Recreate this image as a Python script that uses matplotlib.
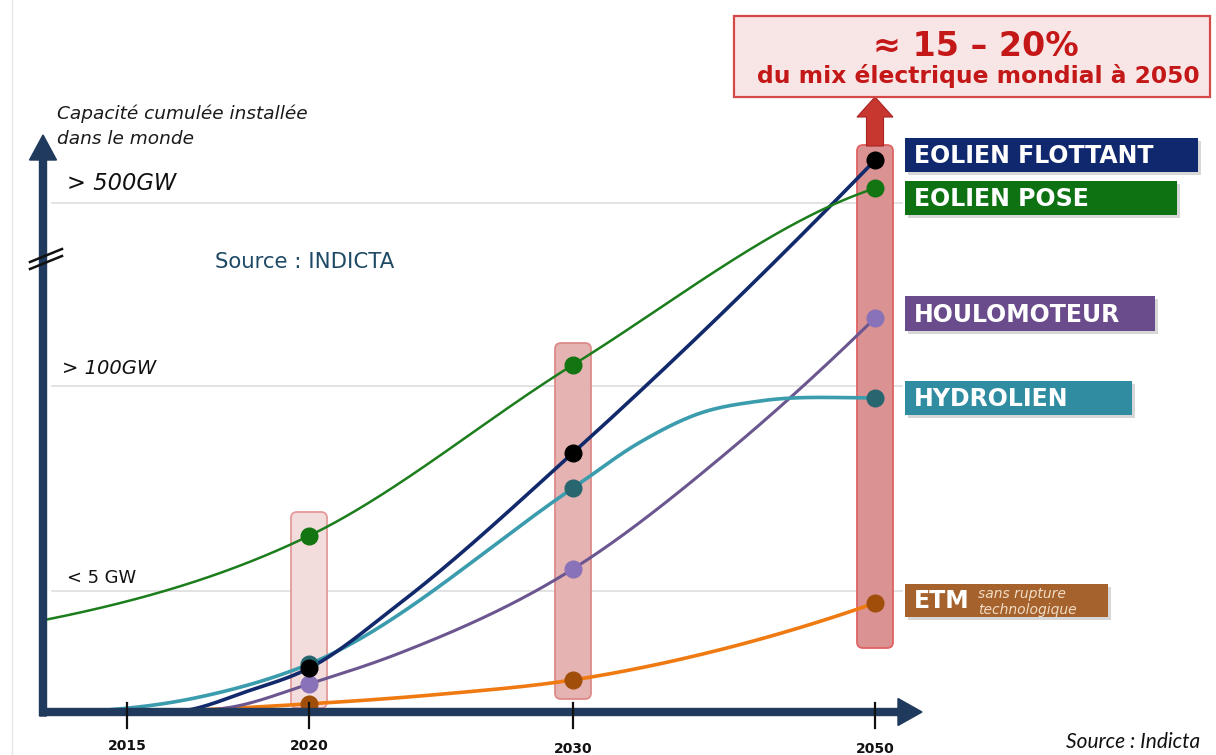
import numpy as np
import matplotlib
matplotlib.use("Agg")
import matplotlib.pyplot as plt
from matplotlib.patches import FancyBboxPatch, FancyArrow, Rectangle

# ---------------- data ----------------
tick_years = [2015, 2020, 2030, 2050]
tick_labels = ["2015", "2020", "2030", "2050"]
marker_years = [2020, 2030, 2050]

grid_levels = [23.8, 64.0, 100.0]          # "< 5 GW", "> 100GW", "> 500GW"
grid_labels = ["< 5 GW", "> 100GW", "> 500GW"]

flottant_years = [2016.2, 2018.4, 2020, 2023.45, 2030, 2050]
flottant_level = [0.0, 4.3, 8.6, 21.4, 50.9, 108.4]

pose_years = [2012.75, 2020, 2030, 2050]
pose_level = [18.1, 34.6, 68.2, 102.9]

houlo_years = [2016.5, 2017.9, 2020, 2023.45, 2030, 2040.4, 2050]
houlo_level = [0.0, 1.0, 5.5, 11.6, 28.1, 51.5, 77.4]

hydro_years = [2013.57, 2017.0, 2020, 2030, 2034.44, 2038.41, 2042.38, 2050]
hydro_level = [0.0, 2.95, 9.4, 44.0, 53.0, 58.7, 61.1, 61.7]

etm_years = [2014.8, 2020, 2025.0, 2030, 2039.7, 2050]
etm_level = [0.0, 1.6, 3.5, 6.3, 12.2, 21.4]

series_names = ["EOLIEN FLOTTANT", "EOLIEN POSE", "HOULOMOTEUR", "HYDROLIEN", "ETM"]

# ---------------- layout helpers ----------------
W, H = 1216, 755
X_KNOTS_YEARS = [2010, 2015, 2020, 2030, 2050, 2060]
X_KNOTS_PIX = [127 - 5 * 36.4, 127, 309, 573, 875, 875 + 151]
Y0, YS = 712, 5.09


def X(years):
    return np.interp(np.asarray(years, float), X_KNOTS_YEARS, X_KNOTS_PIX)


def Y(levels):
    return Y0 - np.asarray(levels, float) * YS


def smooth(x, y, xs, end_slopes=(None, None)):
    """Cubic Hermite curve through the points with Bessel (parabolic) slopes."""
    x = np.asarray(x, float); y = np.asarray(y, float)
    n = len(x)
    h = np.diff(x); d = np.diff(y) / h
    m = np.zeros(n)
    for k in range(1, n - 1):
        m[k] = (h[k] * d[k - 1] + h[k - 1] * d[k]) / (h[k - 1] + h[k])
    if n > 2:
        m[0] = 2 * d[0] - m[1] if end_slopes[0] is None else end_slopes[0]
        m[-1] = 2 * d[-1] - m[-2] if end_slopes[1] is None else end_slopes[1]
    else:
        m[:] = d[0]
    idx = np.clip(np.searchsorted(x, xs) - 1, 0, n - 2)
    t = (xs - x[idx]) / h[idx]
    h00 = 2 * t**3 - 3 * t**2 + 1; h10 = t**3 - 2 * t**2 + t
    h01 = -2 * t**3 + 3 * t**2; h11 = t**3 - t**2
    return h00 * y[idx] + h10 * h[idx] * m[idx] + h01 * y[idx + 1] + h11 * h[idx] * m[idx + 1]


fig = plt.figure(figsize=(W / 100, H / 100), dpi=100)
ax = fig.add_axes([0, 0, 1, 1])
ax.set_xlim(0, W)
ax.set_ylim(H, 0)
ax.axis("off")

AXIS_C = "#1f3a5c"

# faint page border
ax.plot([12, 12], [0, H], color="#e6e6e6", lw=1, zorder=0)

# gridlines
for lv in grid_levels:
    ax.plot([52, 902], [Y(lv), Y(lv)], color="#dedede", lw=1.2, zorder=1)

# highlight bars at 2020 / 2030 / 2050
bar_specs = [
    (2020, 512, 708, "#f3dcdc", "#e49a9a"),
    (2030, 343, 699, "#e6b3b3", "#dc8a8a"),
    (2050, 145, 648, "#da9292", "#e06262"),
]
for yr, top, bot, fc, ec in bar_specs:
    cx = float(X(yr))
    ax.add_patch(FancyBboxPatch((cx - 18, top), 36, bot - top,
                                boxstyle="round,pad=0,rounding_size=6",
                                fc=fc, ec=ec, lw=1.3, zorder=2))

# red arrow above the 2050 bar
ax.add_patch(FancyArrow(float(X(2050)), 146, 0, -49, width=17, head_width=36,
                        head_length=20, length_includes_head=True,
                        fc="#c8372f", ec="#a82222", lw=0.8, zorder=3))

# top box
ax.add_patch(Rectangle((734, 16), 476, 81, fc="#f8e6e6", ec="#d54848", lw=1.6, zorder=4))
ax.text(976, 46, "≈ 15 – 20%", ha="center", va="center", fontsize=24,
        fontweight="bold", color="#c41818", zorder=5)
ax.text(978, 76, "du mix électrique mondial à 2050", ha="center", va="center",
        fontsize=16.8, fontweight="bold", color="#c41818", zorder=5)

# curves: (years, levels, line colour, width, marker colour, end slopes in drawing units)
curves = [
    (flottant_years, flottant_level, "#122a6c", 2.6, "#000000", (-0.02, None)),
    (pose_years, pose_level, "#1b7d1b", 1.8, "#127512", (-0.2, -0.33)),
    (houlo_years, houlo_level, "#6b5690", 2.2, "#8a72b8", (-0.02, None)),
    (hydro_years, hydro_level, "#3a9cad", 2.6, "#27666f", (-0.05, 0.0)),
    (etm_years, etm_level, "#f07a12", 2.6, "#a04e0a", (-0.01, None)),
]
draw_order = [4, 2, 3, 0, 1]
for i in draw_order:
    yrs, lv, col, lw, mc, es = curves[i]
    px, py = X(yrs), Y(lv)
    xs = np.linspace(px[0], px[-1], 500)
    ys = np.minimum(smooth(px, py, xs, es), Y0)
    ax.plot(xs, ys, color=col, lw=lw, zorder=6, solid_capstyle="round")
for i in [1, 3, 2, 4, 0]:
    yrs, lv, col, lw, mc, es = curves[i]
    mx = [y for y in yrs if y in marker_years]
    ml = [l for y, l in zip(yrs, lv) if y in marker_years]
    ax.plot(X(mx), Y(ml), "o", ms=12, color=mc, mec=mc, zorder=7)

# axes (thick arrows)
ax.add_patch(FancyArrow(43, 716, 0, -581, width=7, head_width=27, head_length=25,
                        length_includes_head=True, fc=AXIS_C, ec=AXIS_C, zorder=8))
ax.add_patch(FancyArrow(40, 712, 882, 0, width=7, head_width=27, head_length=24,
                        length_includes_head=True, fc=AXIS_C, ec=AXIS_C, zorder=8))
# axis break
for dy in (0, 7):
    ax.plot([30, 62], [262 + dy, 249 + dy], color="#111111", lw=1.8, zorder=9)

# ticks
for yr, lab in zip(tick_years, tick_labels):
    cx = float(X(yr))
    ax.plot([cx, cx], [703, 728], color="#111111", lw=1.6, zorder=9)
    ax.text(cx, 746 if yr < 2030 else 749, lab, ha="center", va="center",
            fontsize=10, fontweight="bold", color="#111111")

# level labels
ax.text(67, 183, grid_labels[2], fontsize=16.3, style="italic", va="center", color="#111111")
ax.text(62, 368, grid_labels[1], fontsize=14, style="italic", va="center", color="#111111")
ax.text(67, 578, grid_labels[0], fontsize=12.9, va="center", color="#111111")
ax.text(57, 114, "Capacité cumulée installée", fontsize=13.3, style="italic",
        va="center", color="#1a1a1a")
ax.text(57, 139, "dans le monde", fontsize=13.3, style="italic", va="center", color="#1a1a1a")
ax.text(215, 262, "Source : INDICTA", fontsize=15.3, va="center", color="#1f4a66")
ax.text(1200, 742, "Source : Indicta", fontsize=15, style="italic", family="Lato",
        ha="right", va="center", color="#111111")

# series label boxes
label_boxes = [
    (138, 172, 1198, "#10286e"),
    (181, 215, 1177, "#0e7212"),
    (296, 331, 1155, "#6a4b8b"),
    (381, 415, 1132, "#2f8ca1"),
    (584, 617, 1108, "#a5622c"),
]
for name, (top, bot, right, fc) in zip(series_names, label_boxes):
    ax.add_patch(Rectangle((908, top + 3), right - 905, bot - top, fc="#bdbdbd",
                           ec="none", alpha=0.6, zorder=4))
    ax.add_patch(Rectangle((905, top), right - 905, bot - top, fc=fc, ec="none", zorder=5))
    ax.text(914, (top + bot) / 2 + 1, name, fontsize=17, fontweight="bold",
            color="white", va="center", ha="left", zorder=6)
ax.text(978, 594, "sans rupture", fontsize=10, style="italic", color="#f1dcc6", va="center", zorder=6)
ax.text(978, 610, "technologique", fontsize=10, style="italic", color="#f1dcc6", va="center", zorder=6)

fig.savefig("out.png", dpi=100)
